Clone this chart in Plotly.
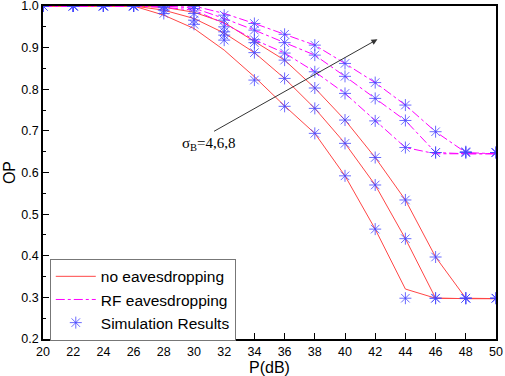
import plotly.graph_objects as go

# P (dB)
P = [20, 22, 24, 26, 28, 30, 32, 34, 36, 38, 40, 42, 44, 46, 48, 50]

# Analytical curves: no eavesdropping, sigma_B = 4, 6, 8
no_eav_s4 = [1, 1, 1, 1, 0.978, 0.946, 0.894, 0.830, 0.760, 0.694, 0.592, 0.464, 0.320, 0.298, 0.297, 0.297]
no_eav_s6 = [1, 1, 1, 1, 0.990, 0.970, 0.935, 0.888, 0.826, 0.754, 0.670, 0.570, 0.441, 0.298, 0.297, 0.297]
no_eav_s8 = [1, 1, 1, 1, 0.997, 0.985, 0.960, 0.915, 0.870, 0.803, 0.726, 0.636, 0.534, 0.397, 0.298, 0.297]

# Analytical curves: RF eavesdropping, sigma_B = 4, 6, 8
rf_eav_s4 = [1, 1, 1, 1, 0.997, 0.990, 0.958, 0.919, 0.887, 0.842, 0.790, 0.724, 0.660, 0.645, 0.645, 0.645]
rf_eav_s6 = [1, 1, 1, 1, 1, 0.995, 0.970, 0.942, 0.912, 0.882, 0.831, 0.778, 0.725, 0.648, 0.645, 0.645]
rf_eav_s8 = [1, 1, 1, 1, 1, 1, 0.982, 0.958, 0.932, 0.906, 0.862, 0.816, 0.762, 0.698, 0.648, 0.645]

# Simulation results
sim_no_s4 = [1, 1, 1, 1, 0.982, 0.956, 0.918, 0.822, 0.759, 0.694, 0.592, 0.464, 0.298, 0.298, 0.298, 0.298]
sim_no_s6 = [1, 1, 1, 1, 0.990, 0.966, 0.930, 0.888, 0.826, 0.754, 0.670, 0.570, 0.441, 0.298, 0.298, 0.298]
sim_no_s8 = [1, 1, 1, 1, 0.996, 0.982, 0.938, 0.912, 0.870, 0.803, 0.726, 0.636, 0.534, 0.397, 0.298, 0.298]
sim_rf_s4 = [1, 1, 1, 1, 1, 0.994, 0.950, 0.919, 0.887, 0.842, 0.790, 0.724, 0.660, 0.648, 0.648, 0.648]
sim_rf_s6 = [1, 1, 1, 1, 1, 1, 0.966, 0.942, 0.912, 0.882, 0.831, 0.778, 0.725, 0.648, 0.648, 0.648]
sim_rf_s8 = [1, 1, 1, 1, 1, 1, 0.978, 0.958, 0.932, 0.906, 0.862, 0.816, 0.762, 0.698, 0.650, 0.648]

RED = "rgb(255,70,70)"
MAG = "rgb(255,0,255)"
BLUE = "rgba(70,70,255,0.8)"

fig = go.Figure()

for i, ys in enumerate([no_eav_s4, no_eav_s6, no_eav_s8]):
    fig.add_trace(go.Scatter(x=P, y=ys, mode="lines", name="no eavesdropping",
                             line=dict(color=RED, width=1), showlegend=(i == 0)))
for i, ys in enumerate([rf_eav_s4, rf_eav_s6, rf_eav_s8]):
    fig.add_trace(go.Scatter(x=P, y=ys, mode="lines", name="RF eavesdropping",
                             line=dict(color=MAG, width=1, dash="dashdot"), showlegend=(i == 0)))
for i, ys in enumerate([sim_no_s4, sim_no_s6, sim_no_s8, sim_rf_s4, sim_rf_s6, sim_rf_s8]):
    fig.add_trace(go.Scatter(x=P, y=ys, mode="markers", name="Simulation Results",
                             marker=dict(symbol="asterisk-open", size=10, color=BLUE,
                                         line=dict(color=BLUE, width=1)),
                             showlegend=(i == 0)))

fig.add_annotation(x=42.15, y=0.920, ax=31.23, ay=0.697, xref="x", yref="y",
                   axref="x", ayref="y", text="", showarrow=True,
                   arrowhead=2, arrowsize=1.2, arrowwidth=1, arrowcolor="#333333")
fig.add_annotation(x=31.0, y=0.668, xref="x", yref="y", text="σ<sub>B</sub>=4,6,8",
                   showarrow=False, font=dict(family="Liberation Serif", size=15, color="black"))

axis_common = dict(showgrid=False, zeroline=False, showline=True, linecolor="black",
                   linewidth=1.5, mirror=True, ticks="inside", ticklen=6, tickcolor="black",
                   automargin=False, ticklabeloverflow="allow",
                   tickfont=dict(family="Liberation Sans", size=12.5, color="black"))

fig.update_xaxes(range=[20, 50], dtick=2, tick0=20,
                 title=dict(text="P(dB)", font=dict(family="Liberation Sans", size=16, color="black"),
                            standoff=0),
                 **axis_common)
fig.update_yaxes(range=[0.2, 1.0], dtick=0.1, tick0=0.2, tickformat=".1f",
                 minor=dict(dtick=0.05, ticks="inside", ticklen=3, tickcolor="black"),
                 title=dict(text="OP", font=dict(family="Liberation Sans", size=16, color="black"),
                            standoff=2),
                 **axis_common)

fig.update_layout(
    width=505, height=376,
    margin=dict(l=43, r=9, t=6, b=37),
    plot_bgcolor="white", paper_bgcolor="white",
    legend=dict(x=0.015, y=0.241, xanchor="left", yanchor="top",
                bordercolor="#777777", borderwidth=1, bgcolor="white",
                font=dict(family="Liberation Sans", size=15.5, color="black"),
                itemwidth=40),
)

fig.write_html("out.html", config={"displayModeBar": False},
               post_script="document.body.style.margin='0';document.body.style.overflow='hidden';")
